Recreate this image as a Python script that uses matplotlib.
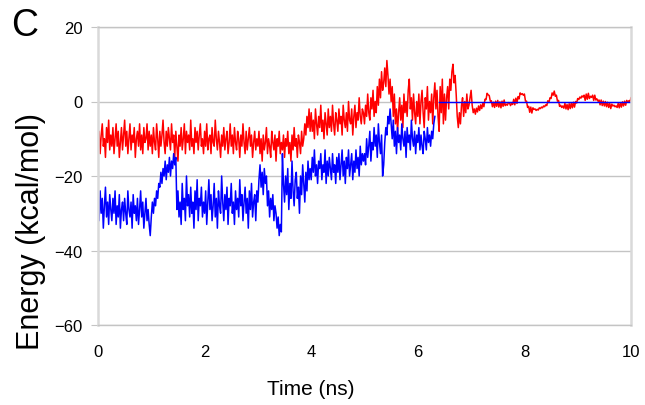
import numpy as np
import matplotlib
matplotlib.use('Agg')
import matplotlib.pyplot as plt

plt.rcParams['font.family'] = ['Liberation Sans', 'DejaVu Sans']

red_energy = [
    -13, -8, -14, -9, -6, -12, -10, -15, -7, -11, -5, -13, -9, -12, -7, -14, -10, -6, -12, -8, -15, -11, -7, -13, -9,
    -5, -12, -8, -14, -10, -6, -13, -9, -11, -7, -15, -10, -8, -12, -6, -13, -9, -14, -7, -11, -10, -6, -13, -8, -12,
    -9, -14, -7, -11, -13, -6, -10, -15, -8, -12, -9, -5, -11, -14, -8, -12, -7, -10, -13, -6, -11, -9, -15, -8, -12,
    -16, -9, -12, -7, -13, -10, -6, -14, -8, -11, -9, -13, -5, -12, -10, -14, -7, -11, -8, -13, -9, -6, -12, -10, -14,
    -8, -12, -6, -13, -10, -9, -14, -7, -11, -12, -5, -10, -13, -8, -11, -15, -9, -12, -7, -13, -10, -8, -14, -11, -6,
    -12, -9, -14, -7, -11, -13, -8, -10, -15, -9, -12, -6, -11, -14, -8, -13, -10, -7, -12, -9, -15, -11, -8, -13, -10,
    -12, -8, -14, -10, -16, -9, -13, -11, -7, -14, -10, -12, -15, -8, -11, -13, -9, -16, -10, -12, -8, -14, -11, -13, -9,
    -15, -10, -12, -8, -14, -11, -16, -9, -13, -7, -12, -10, -15, -9, -11, -14, -8, -12, -10, -6, -9, -4, -7, -2, -8,
    -3, -8, -5, -10, -2, -6, -9, -4, -7, -1, -8, -5, -10, -3, -6, -9, -2, -7, -4, -8, -1, -6, -9, -3, -5,
    -8, -2, -6, -4, -9, -1, -5, -7, -3, -8, 0, -5, -6, -2, -9, -4, -1, -7, -3, -5, 1, -4, -6, -2, -3,
    -6, -1, -4, 2, -3, -5, 1, -2, 3, -4, 0, -3, 4, -1, 6, 1, 8, 3, 5, 9, 4, 11, 7, 2, 6,
    0, 4, -4, 2, -6, -2, -8, -3, 1, -5, -1, -7, 2, -3, 0, -4, 3, 6, -2, 1, -5, 2, -3, -6, 0,
    -4, 2, -6, 0, 3, -3, -7, 1, -2, 4, -5, 0, -3, 2, -6, 1, 5, -2, 3, -4, -8, 4, -3, 6, -6,
    2, -5, 1, 4, -2, 6, 3, 8, 10, 5, 7, 2, -4, -7, -3, -6, -1, 1, -4, 0, -3, 2, -2, -1, 1,
    3, -1, -3, -2, -3.4, -1.8, -2.8, -1.2, -2.4, -0.9, -1.9, -0.5, -1.4, 0.6, 0.5, 2.2, 1.8, 1.6, 0.1, 0.2, -1.4, -0.2, -1.6, 0.1, -1.3,
    0.3, -1.5, -0.1, -1.7, 0.1, -1.3, 0.4, -1.1, -0.7, -1, -0.3, -0.4, -1.1, -0.5, -0.8, 0.6, -0.9, 0.9, -0.5, 1.3, 0.7, 2.3, 1.9, 2.1, 1.7,
    2, 0.1, 0.1, -1.6, -1.3, -2.9, -1.5, -3.1, -1.7, -2.1, -2, -2.4, -2.1, -2.3, -1.7, -1.9, -1.5, -1.7, -1.2, -1.4, -0.9, -1.1, 0.2, -0.3, 1,
    0.8, 2.3, 1.7, 2.8, 1.4, 1.7, 0.1, 0.3, -1.3, -1, -1.6, -1.2, -1.8, -0.5, -2, -0.8, -2.2, -0.6, -1.9, -0.4, -1.7, -0.2, -1.5, 0, -0.4,
    0.8, 0.5, 1.2, 0.9, 1.5, 1.2, 1.7, 0.3, 2, 0.6, 2.2, 0.8, 1.4, 1.1, 1.7, 0.3, 1.7, 0.4, 0.7, 0.1, 0.4, -0.9, 0.4, -1.1, 0.1,
    -1.2, 0, -1.4, -0.2, -1.6, -0.5, -1.9, -0.7, -1.2, -1, -1.4, -1.2, -1.6, -0.5, -1.7, -0.3, -1.5, -0.1, -1.2, 0.1, -1, 0.3, -0.2, 0.2, 0,
    1.0,
]

blue_energy = [
    -27, -32, -24, -30, -26, -34, -28, -23, -31, -27, -33, -25, -29, -32, -26, -30, -24, -33, -28, -31, -25, -34, -29, -27, -32,
    -26, -30, -33, -24, -29, -31, -27, -34, -25, -30, -28, -32, -26, -33, -29, -24, -31, -27, -34, -30, -26, -32, -29, -33, -36,
    -31, -27, -30, -26, -28, -24, -26, -22, -23, -19, -22, -18, -20, -16, -21, -17, -19, -15, -20, -16, -18, -14, -17, -15, -29,
    -24, -31, -27, -33, -22, -29, -26, -32, -20, -28, -25, -31, -23, -30, -27, -34, -24, -29, -21, -32, -26, -28, -23, -31, -27,
    -30, -24, -33, -27, -21, -29, -25, -32, -28, -22, -31, -26, -34, -24, -28, -30, -20, -27, -32, -25, -29, -23, -33, -26, -28,
    -22, -30, -27, -33, -24, -29, -26, -31, -21, -28, -25, -32, -27, -23, -30, -26, -34, -24, -29, -22, -31, -27, -25, -32, -24,
    -27, -21, -17, -23, -19, -25, -18, -22, -20, -28, -24, -31, -26, -29, -25, -32, -28, -30, -34, -31, -36, -33, -35, -14, -22,
    -27, -20, -25, -18, -29, -22, -26, -16, -24, -28, -21, -19, -26, -23, -30, -20, -25, -17, -22, -27, -19, -24, -16, -21, -18,
    -21, -15, -19, -13, -20, -17, -22, -16, -18, -14, -21, -17, -19, -13, -22, -16, -20, -15, -18, -21, -14, -19, -17, -22, -15,
    -19, -14, -21, -17, -13, -20, -16, -22, -15, -18, -13, -20, -17, -14, -21, -16, -19, -13, -18, -15, -20, -12, -17, -14, -16,
    -14, -17, -10, -15, -12, -8, -16, -11, -13, -7, -12, -9, -15, -6, -11, -14, -9, -20, -17, -11, -7, -9, -4, -6, -2,
    -6, -10, -5, -12, -8, -14, -7, -11, -9, -13, -6, -10, -12, -8, -15, -7, -11, -9, -13, -5, -10, -12, -8, -14, -9,
    -11, -7, -13, -9, -12, -14, -8, -10, -13, -7, -11, -9, -12, -8, -10, -6, -4,
]

# after ~6.4 ns the blue trace sits flat at zero
blue_flat_time = [6.4, 10.0]
blue_flat_energy = [0, 0]

step = 0.02
red_time = np.arange(len(red_energy)) * step
blue_time = np.arange(len(blue_energy)) * step

fig = plt.figure(figsize=(6.45, 4.06), dpi=100)
ax = fig.add_axes([98 / 645, 80 / 406, 533 / 645, 298 / 406])

ax.plot(red_time, red_energy, color='#ff0000', lw=1.1)
ax.plot(blue_time, blue_energy, color='#0000ff', lw=1.1)
ax.plot(blue_flat_time, blue_flat_energy, color='#0000ff', lw=1.0)

ax.set_xlim(0, 10)
ax.set_ylim(-60, 20)
ax.set_xticks([0, 2, 4, 6, 8, 10])
ax.set_yticks([-60, -40, -20, 0, 20])
ax.yaxis.grid(True, color='#c4c4c4', lw=1)
ax.set_axisbelow(True)

for side in ['left', 'right']:
    ax.spines[side].set_color('#d9d9d9')
    ax.spines[side].set_linewidth(1.8)
for side in ['top', 'bottom']:
    ax.spines[side].set_color('#c4c4c4')
    ax.spines[side].set_linewidth(1)

ax.tick_params(axis='y', length=5, color='#c4c4c4', pad=6, labelsize=12)
ax.tick_params(axis='x', length=0, pad=14, labelsize=12)

fig.text(311 / 645, 1 - 390 / 406, 'Time (ns)', ha='center', va='center', fontsize=15)
fig.text(31 / 645, 1 - 231 / 406, 'Energy (kcal/mol)', ha='center', va='center',
         rotation=90, fontsize=22)
fig.text(11 / 645, 1 - 26 / 406, 'C', ha='left', va='center', fontsize=27)

fig.savefig('out.png', dpi=100)
